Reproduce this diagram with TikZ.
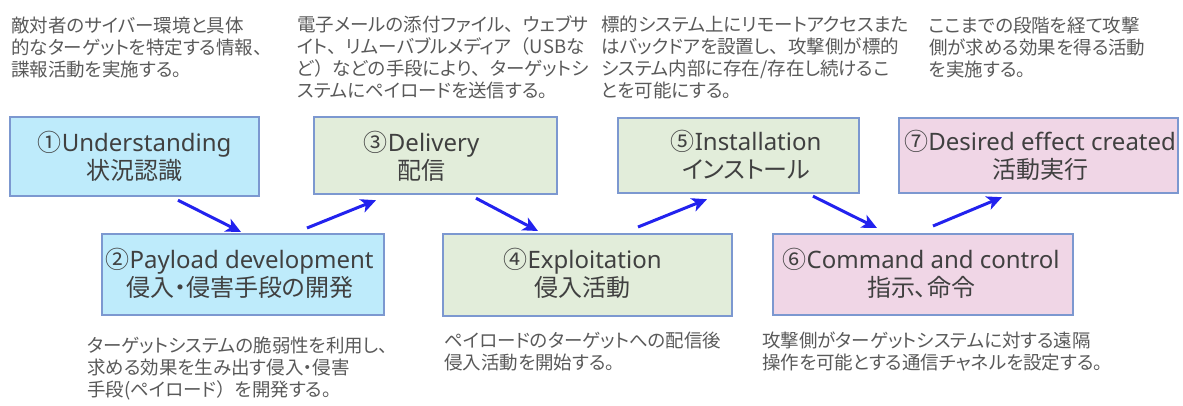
\documentclass[tikz,border=0pt]{standalone}
\usepackage{fontspec}
\setmainfont{Noto Sans}
\newfontfamily\jp{Noto Sans CJK JP}
\newfontfamily\jpp{Noto Sans CJK JP}[RawFeature=+palt]
\usetikzlibrary{arrows.meta,calc}
\newcommand\fw[1]{{\jp #1}}
\definecolor{bordc}{RGB}{124,152,208}
\definecolor{cyanf}{RGB}{190,235,251}
\definecolor{greenf}{RGB}{226,237,218}
\definecolor{pinkf}{RGB}{240,214,230}
\definecolor{arrc}{RGB}{34,34,238}
\definecolor{titc}{RGB}{64,64,64}
\definecolor{descc}{RGB}{89,89,89}
\tikzset{
  stagebox/.style={draw=bordc, line width=2.2pt, inner sep=0pt, anchor=north west},
  stagetext/.style={text=titc, inner sep=0pt, anchor=base, font=\fontsize{24}{28}\selectfont},
  desctext/.style={text=descc, inner sep=0pt, anchor=base west, font=\jpp\fontsize{18.5}{21.8}\selectfont},
  flow/.style={draw=arrc, line width=3pt, -{Stealth[length=15pt,width=14pt,inset=4pt]}},
}
\begin{document}
\begin{tikzpicture}[x=1pt,y=-1pt]
\useasboundingbox (0,0) rectangle (1183,405);
% boxes
\node[stagebox, fill=cyanf, minimum width=249pt, minimum height=79pt] (b1) at (9,116) {};
\node[stagebox, fill=cyanf, minimum width=282pt, minimum height=81pt] (b2) at (101,233) {};
\node[stagebox, fill=greenf, minimum width=243pt, minimum height=77pt] (b3) at (313,116) {};
\node[stagebox, fill=greenf, minimum width=289pt, minimum height=82pt] (b4) at (442,233) {};
\node[stagebox, fill=greenf, minimum width=241pt, minimum height=75pt] (b5) at (617,117) {};
\node[stagebox, fill=pinkf, minimum width=300pt, minimum height=81pt] (b6) at (772,233) {};
\node[stagebox, fill=pinkf, minimum width=279pt, minimum height=75pt] (b7) at (898,117) {};
% box texts
\node[stagetext] (t1) at ($(b1.north)+(0,35)$) {\begin{tabular}[t]{@{}c@{}}{\jp ①}Understanding\\{\jpp 状況認識}\end{tabular}};
\node[stagetext] (t2) at ($(b2.north)+(-3.5,35)$) {\begin{tabular}[t]{@{}c@{}}{\jp ②}Payload development\\{\jpp 侵入・侵害手段の開発}\end{tabular}};
\node[stagetext] (t3) at ($(b3.north)+(-14,35)$) {\begin{tabular}[t]{@{}c@{}}{\jp ③}Delivery\\{\jpp 配信}\end{tabular}};
\node[stagetext] (t4) at ($(b4.north)+(-5,35)$) {\begin{tabular}[t]{@{}c@{}}{\jp ④}Exploitation\\{\jpp 侵入活動}\end{tabular}};
\node[stagetext] (t5) at ($(b5.north)+(7.5,33)$) {\begin{tabular}[t]{@{}c@{}}{\jp ⑤}Installation\\{\jpp インストール}\end{tabular}};
\node[stagetext] (t6) at ($(b6.north)+(-2,35)$) {\begin{tabular}[t]{@{}c@{}}{\jp ⑥}Command and control\\{\jpp 指示、命令}\end{tabular}};
\node[stagetext] (t7) at ($(b7.north)+(1.5,33)$) {\begin{tabular}[t]{@{}c@{}}{\jp ⑦}Desired effect created\\{\jpp 活動実行}\end{tabular}};
% descriptions
\node[desctext] (d1) at (11,32) {\begin{tabular}[t]{@{}l@{}}敵対者のサイバー環境と具体\\的なターゲットを特定する情報\fw{、}\\諜報活動を実施する\fw{。}\end{tabular}};
\node[desctext] (d3) at (297,31) {\begin{tabular}[t]{@{}l@{}}電子メールの添付ファイル\fw{、}ウェブサ\\イト\fw{、}リムーバブルメディア\fw{（}USBな\\ど\fw{）}などの手段により\fw{、}ターゲットシ\\ステムにペイロードを送信する\fw{。}\end{tabular}};
\node[desctext] (d5) at (601,31) {\begin{tabular}[t]{@{}l@{}}標的システム上にリモートアクセスまた\\はバックドアを設置し\fw{、}攻撃側が標的\\システム内部に存在/存在し続けるこ\\とを可能にする\fw{。}\end{tabular}};
\node[desctext] (d7) at (929,32) {\begin{tabular}[t]{@{}l@{}}ここまでの段階を経て攻撃\\側が求める効果を得る活動\\を実施する\fw{。}\end{tabular}};
\node[desctext] (d2) at (87,352) {\begin{tabular}[t]{@{}l@{}}ターゲットシステムの脆弱性を利用し\fw{、}\\求める効果を生み出す侵入・侵害\\手段(ペイロード\fw{）}を開発する\fw{。}\end{tabular}};
\node[desctext] (d4) at (444,347) {\begin{tabular}[t]{@{}l@{}}ペイロードのターゲットへの配信後\\侵入活動を開始する\fw{。}\end{tabular}};
\node[desctext] (d6) at (762,347) {\begin{tabular}[t]{@{}l@{}}攻撃側がターゲットシステムに対する遠隔\\操作を可能とする通信チャネルを設定する\fw{。}\end{tabular}};
% arrows
\draw[flow] ($(b1.south west)+(169,3)$) -- ($(b2.north west)+(140,-1)$);
\draw[flow] ($(b2.north west)+(206,-5)$) -- ($(b3.south west)+(63,5)$);
\draw[flow] ($(b3.south west)+(163,3)$) -- ($(b4.north west)+(96,-2)$);
\draw[flow] ($(b4.north west)+(196,-6)$) -- ($(b5.south west)+(90,5)$);
\draw[flow] ($(b5.south west)+(196,2)$) -- ($(b6.north west)+(105,-5)$);
\draw[flow] ($(b6.north west)+(161,-7)$) -- ($(b7.south west)+(104,3)$);
\end{tikzpicture}
\end{document}
